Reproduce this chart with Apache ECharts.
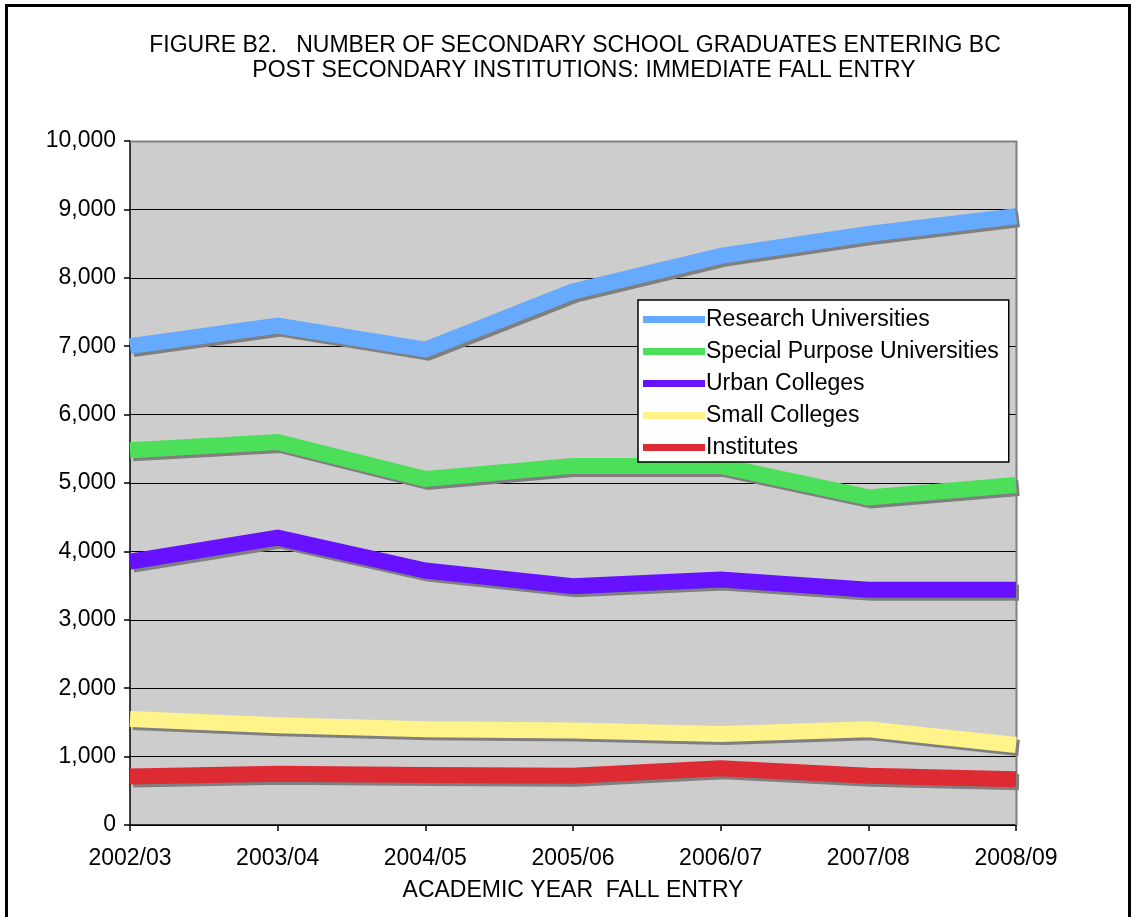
<!DOCTYPE html>
<html>
<head>
<meta charset="utf-8">
<script src="https://cdn.jsdelivr.net/npm/echarts@6/dist/echarts.min.js"></script>
<style>
  html, body { margin: 0; padding: 0; background: #ffffff; }
  #chart { width: 1133px; height: 917px; }
</style>
</head>
<body>
<div id="chart"></div>
<script>
// Academic years (fall entry)
const years = ['2002/03', '2003/04', '2004/05', '2005/06', '2006/07', '2007/08', '2008/09'];

// Graduates entering each institution type, immediate fall entry
const researchUniversities = [7000, 7300, 6950, 7800, 8320, 8640, 8900];
const specialPurposeUniversities = [5480, 5600, 5060, 5250, 5250, 4790, 4970];
const urbanColleges = [3850, 4200, 3720, 3490, 3590, 3440, 3440];
const smallColleges = [1550, 1460, 1400, 1380, 1330, 1400, 1170];
const institutes = [710, 750, 730, 720, 830, 720, 670];

const seriesNames = ['Research Universities', 'Special Purpose Universities', 'Urban Colleges', 'Small Colleges', 'Institutes'];
const seriesColors = ['#66AAFF', '#4CE05A', '#6611FF', '#FFF38A', '#DD2A33'];
const seriesValues = [researchUniversities, specialPurposeUniversities, urbanColleges, smallColleges, institutes];

const FONT = '"Liberation Sans", Arial, sans-serif';
const FS = 23;

const chart = echarts.init(document.getElementById('chart'), null, { renderer: 'canvas' });

const series = seriesNames.map((name, i) => ({
  name: name,
  type: 'line',
  data: seriesValues[i],
  symbol: 'none',
  smooth: false,
  color: seriesColors[i],
  lineStyle: {
    width: 16,
    color: seriesColors[i],
    cap: 'butt',
    join: 'miter',
    shadowColor: '#7f7f7f',
    shadowBlur: 0,
    shadowOffsetX: 3,
    shadowOffsetY: 3
  },
  emphasis: { disabled: true },
  animation: false
}));

chart.setOption({
  animation: false,
  backgroundColor: '#ffffff',
  textStyle: { fontFamily: FONT },
  graphic: [
    {
      type: 'rect',
      shape: { x: 6.5, y: 5.5, width: 1123, height: 914 },
      style: { fill: 'none', stroke: '#000000', lineWidth: 3 },
      z: 0
    },
    {
      type: 'text',
      x: 575, y: 46,
      style: {
        text: 'FIGURE B2.   NUMBER OF SECONDARY SCHOOL GRADUATES ENTERING BC',
        font: FS + 'px ' + FONT, fill: '#000000', align: 'center', verticalAlign: 'middle'
      }
    },
    {
      type: 'text',
      x: 584, y: 71,
      style: {
        text: 'POST SECONDARY INSTITUTIONS: IMMEDIATE FALL ENTRY',
        font: FS + 'px ' + FONT, fill: '#000000', align: 'center', verticalAlign: 'middle'
      }
    },
    // grey frame on the top and right sides of the plot area
    {
      type: 'polyline',
      shape: { points: [[130, 141.5], [1016.5, 141.5], [1016.5, 825]] },
      style: { stroke: '#808080', lineWidth: 2, fill: 'none' },
      z: 1
    }
  ],
  grid: {
    left: 130, right: 117, top: 141, bottom: 92,
    show: true, backgroundColor: '#CDCDCD', borderWidth: 0
  },
  legend: {
    orient: 'vertical',
    left: 638, top: 300,
    data: seriesNames.map((n, i) => ({ name: n, icon: 'rect', itemStyle: { color: seriesColors[i] } })),
    itemWidth: 62, itemHeight: 7, itemGap: 9,
    padding: [8, 10, 3, 5],
    backgroundColor: '#ffffff',
    borderColor: '#000000', borderWidth: 1.5,
    textStyle: { fontSize: FS, color: '#000000', fontFamily: FONT, padding: [0, 0, 0, -4] },
    itemStyle: { shadowBlur: 0, shadowColor: 'transparent', shadowOffsetX: 0, shadowOffsetY: 0 },
    selectedMode: false
  },
  xAxis: {
    type: 'category',
    data: years,
    boundaryGap: false,
    name: 'ACADEMIC YEAR  FALL ENTRY',
    nameLocation: 'middle',
    nameGap: 54,
    nameTextStyle: { fontSize: FS, color: '#000000', fontFamily: FONT },
    axisLine: { show: true, lineStyle: { color: '#000000', width: 1.5 } },
    axisTick: { show: true, length: 6, inside: false, alignWithLabel: true, lineStyle: { color: '#000000', width: 1.5 } },
    axisLabel: { fontSize: FS, color: '#000000', margin: 22, fontFamily: FONT },
    splitLine: { show: false }
  },
  yAxis: {
    type: 'value',
    min: 0, max: 10000, interval: 1000,
    axisLine: { show: true, lineStyle: { color: '#000000', width: 1.5 } },
    axisTick: { show: true, length: 6, inside: false, lineStyle: { color: '#000000', width: 1.5 } },
    axisLabel: {
      fontSize: FS, color: '#000000', margin: 14, fontFamily: FONT,
      formatter: v => v.toLocaleString('en-US')
    },
    splitLine: { show: true, lineStyle: { color: '#000000', width: 1 } }
  },
  series: series
});
</script>
</body>
</html>
